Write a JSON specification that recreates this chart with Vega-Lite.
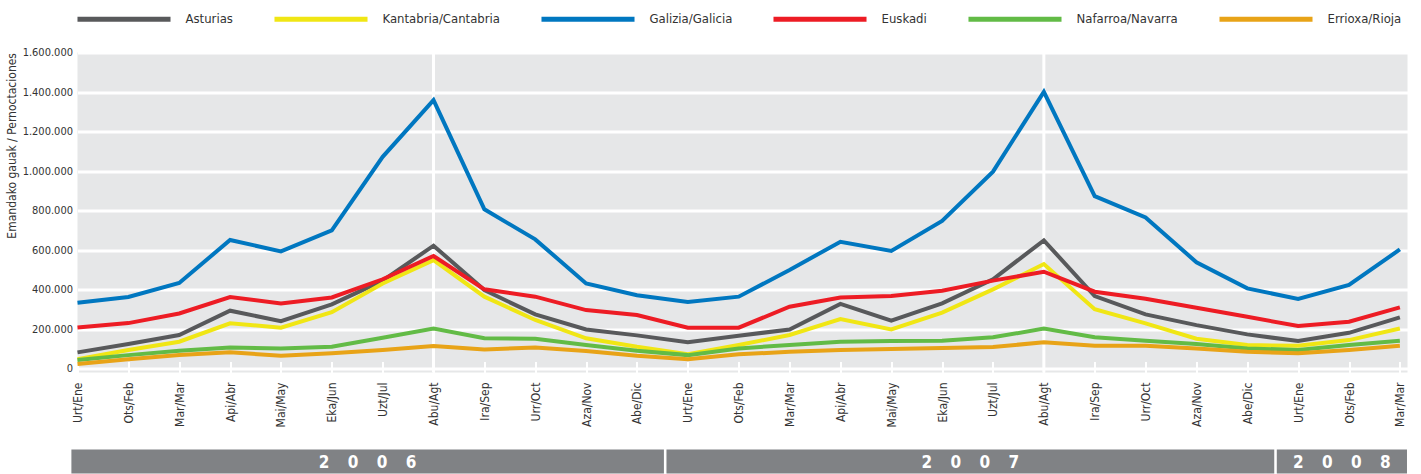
{
  "$schema": "https://vega.github.io/schema/vega-lite/v6.json",
  "background": "white",
  "padding": {"left": 4.5, "top": 4.5, "right": 10, "bottom": 0},
  "config": {
    "font": "DejaVu Sans Condensed, Liberation Sans, sans-serif",
    "view": {"stroke": null},
    "locale": {"number": {"decimal": ",", "thousands": ".", "grouping": [3], "currency": ["", " €"]}}
  },
  "spacing": 22,
  "datasets": {
    "pernoctaciones": [
      {"mes":0,"region":"Asturias","valor":82000},{"mes":1,"region":"Asturias","valor":124000},{"mes":2,"region":"Asturias","valor":170000},{"mes":3,"region":"Asturias","valor":293000},{"mes":4,"region":"Asturias","valor":240000},{"mes":5,"region":"Asturias","valor":325000},{"mes":6,"region":"Asturias","valor":445000},{"mes":7,"region":"Asturias","valor":622000},{"mes":8,"region":"Asturias","valor":397000},{"mes":9,"region":"Asturias","valor":274000},{"mes":10,"region":"Asturias","valor":198000},{"mes":11,"region":"Asturias","valor":168000},{"mes":12,"region":"Asturias","valor":133000},{"mes":13,"region":"Asturias","valor":166000},{"mes":14,"region":"Asturias","valor":198000},{"mes":15,"region":"Asturias","valor":327000},{"mes":16,"region":"Asturias","valor":242000},{"mes":17,"region":"Asturias","valor":330000},{"mes":18,"region":"Asturias","valor":452000},{"mes":19,"region":"Asturias","valor":649000},{"mes":20,"region":"Asturias","valor":367000},{"mes":21,"region":"Asturias","valor":274000},{"mes":22,"region":"Asturias","valor":220000},{"mes":23,"region":"Asturias","valor":173000},{"mes":24,"region":"Asturias","valor":139000},{"mes":25,"region":"Asturias","valor":181000},{"mes":26,"region":"Asturias","valor":259000},
      {"mes":0,"region":"Kantabria/Cantabria","valor":47000},{"mes":1,"region":"Kantabria/Cantabria","valor":94000},{"mes":2,"region":"Kantabria/Cantabria","valor":136000},{"mes":3,"region":"Kantabria/Cantabria","valor":229000},{"mes":4,"region":"Kantabria/Cantabria","valor":207000},{"mes":5,"region":"Kantabria/Cantabria","valor":285000},{"mes":6,"region":"Kantabria/Cantabria","valor":431000},{"mes":7,"region":"Kantabria/Cantabria","valor":549000},{"mes":8,"region":"Kantabria/Cantabria","valor":364000},{"mes":9,"region":"Kantabria/Cantabria","valor":246000},{"mes":10,"region":"Kantabria/Cantabria","valor":153000},{"mes":11,"region":"Kantabria/Cantabria","valor":110000},{"mes":12,"region":"Kantabria/Cantabria","valor":73000},{"mes":13,"region":"Kantabria/Cantabria","valor":119000},{"mes":14,"region":"Kantabria/Cantabria","valor":170000},{"mes":15,"region":"Kantabria/Cantabria","valor":251000},{"mes":16,"region":"Kantabria/Cantabria","valor":198000},{"mes":17,"region":"Kantabria/Cantabria","valor":283000},{"mes":18,"region":"Kantabria/Cantabria","valor":401000},{"mes":19,"region":"Kantabria/Cantabria","valor":529000},{"mes":20,"region":"Kantabria/Cantabria","valor":300000},{"mes":21,"region":"Kantabria/Cantabria","valor":229000},{"mes":22,"region":"Kantabria/Cantabria","valor":151000},{"mes":23,"region":"Kantabria/Cantabria","valor":119000},{"mes":24,"region":"Kantabria/Cantabria","valor":115000},{"mes":25,"region":"Kantabria/Cantabria","valor":144000},{"mes":26,"region":"Kantabria/Cantabria","valor":203000},
      {"mes":0,"region":"Galizia/Galicia","valor":333000},{"mes":1,"region":"Galizia/Galicia","valor":362000},{"mes":2,"region":"Galizia/Galicia","valor":433000},{"mes":3,"region":"Galizia/Galicia","valor":651000},{"mes":4,"region":"Galizia/Galicia","valor":593000},{"mes":5,"region":"Galizia/Galicia","valor":700000},{"mes":6,"region":"Galizia/Galicia","valor":1072000},{"mes":7,"region":"Galizia/Galicia","valor":1359000},{"mes":8,"region":"Galizia/Galicia","valor":806000},{"mes":9,"region":"Galizia/Galicia","valor":654000},{"mes":10,"region":"Galizia/Galicia","valor":431000},{"mes":11,"region":"Galizia/Galicia","valor":371000},{"mes":12,"region":"Galizia/Galicia","valor":337000},{"mes":13,"region":"Galizia/Galicia","valor":364000},{"mes":14,"region":"Galizia/Galicia","valor":499000},{"mes":15,"region":"Galizia/Galicia","valor":642000},{"mes":16,"region":"Galizia/Galicia","valor":595000},{"mes":17,"region":"Galizia/Galicia","valor":747000},{"mes":18,"region":"Galizia/Galicia","valor":997000},{"mes":19,"region":"Galizia/Galicia","valor":1401000},{"mes":20,"region":"Galizia/Galicia","valor":873000},{"mes":21,"region":"Galizia/Galicia","valor":765000},{"mes":22,"region":"Galizia/Galicia","valor":538000},{"mes":23,"region":"Galizia/Galicia","valor":406000},{"mes":24,"region":"Galizia/Galicia","valor":352000},{"mes":25,"region":"Galizia/Galicia","valor":423000},{"mes":26,"region":"Galizia/Galicia","valor":603000},
      {"mes":0,"region":"Euskadi","valor":208000},{"mes":1,"region":"Euskadi","valor":230000},{"mes":2,"region":"Euskadi","valor":279000},{"mes":3,"region":"Euskadi","valor":362000},{"mes":4,"region":"Euskadi","valor":330000},{"mes":5,"region":"Euskadi","valor":360000},{"mes":6,"region":"Euskadi","valor":452000},{"mes":7,"region":"Euskadi","valor":570000},{"mes":8,"region":"Euskadi","valor":401000},{"mes":9,"region":"Euskadi","valor":364000},{"mes":10,"region":"Euskadi","valor":296000},{"mes":11,"region":"Euskadi","valor":271000},{"mes":12,"region":"Euskadi","valor":207000},{"mes":13,"region":"Euskadi","valor":207000},{"mes":14,"region":"Euskadi","valor":313000},{"mes":15,"region":"Euskadi","valor":360000},{"mes":16,"region":"Euskadi","valor":367000},{"mes":17,"region":"Euskadi","valor":394000},{"mes":18,"region":"Euskadi","valor":445000},{"mes":19,"region":"Euskadi","valor":490000},{"mes":20,"region":"Euskadi","valor":389000},{"mes":21,"region":"Euskadi","valor":353000},{"mes":22,"region":"Euskadi","valor":308000},{"mes":23,"region":"Euskadi","valor":262000},{"mes":24,"region":"Euskadi","valor":215000},{"mes":25,"region":"Euskadi","valor":237000},{"mes":26,"region":"Euskadi","valor":310000},
      {"mes":0,"region":"Nafarroa/Navarra","valor":43000},{"mes":1,"region":"Nafarroa/Navarra","valor":68000},{"mes":2,"region":"Nafarroa/Navarra","valor":90000},{"mes":3,"region":"Nafarroa/Navarra","valor":107000},{"mes":4,"region":"Nafarroa/Navarra","valor":102000},{"mes":5,"region":"Nafarroa/Navarra","valor":110000},{"mes":6,"region":"Nafarroa/Navarra","valor":156000},{"mes":7,"region":"Nafarroa/Navarra","valor":202000},{"mes":8,"region":"Nafarroa/Navarra","valor":153000},{"mes":9,"region":"Nafarroa/Navarra","valor":151000},{"mes":10,"region":"Nafarroa/Navarra","valor":119000},{"mes":11,"region":"Nafarroa/Navarra","valor":90000},{"mes":12,"region":"Nafarroa/Navarra","valor":68000},{"mes":13,"region":"Nafarroa/Navarra","valor":102000},{"mes":14,"region":"Nafarroa/Navarra","valor":119000},{"mes":15,"region":"Nafarroa/Navarra","valor":136000},{"mes":16,"region":"Nafarroa/Navarra","valor":139000},{"mes":17,"region":"Nafarroa/Navarra","valor":141000},{"mes":18,"region":"Nafarroa/Navarra","valor":158000},{"mes":19,"region":"Nafarroa/Navarra","valor":202000},{"mes":20,"region":"Nafarroa/Navarra","valor":158000},{"mes":21,"region":"Nafarroa/Navarra","valor":141000},{"mes":22,"region":"Nafarroa/Navarra","valor":124000},{"mes":23,"region":"Nafarroa/Navarra","valor":102000},{"mes":24,"region":"Nafarroa/Navarra","valor":94000},{"mes":25,"region":"Nafarroa/Navarra","valor":119000},{"mes":26,"region":"Nafarroa/Navarra","valor":141000},
      {"mes":0,"region":"Errioxa/Rioja","valor":23000},{"mes":1,"region":"Errioxa/Rioja","valor":47000},{"mes":2,"region":"Errioxa/Rioja","valor":68000},{"mes":3,"region":"Errioxa/Rioja","valor":82000},{"mes":4,"region":"Errioxa/Rioja","valor":65000},{"mes":5,"region":"Errioxa/Rioja","valor":77000},{"mes":6,"region":"Errioxa/Rioja","valor":94000},{"mes":7,"region":"Errioxa/Rioja","valor":114000},{"mes":8,"region":"Errioxa/Rioja","valor":97000},{"mes":9,"region":"Errioxa/Rioja","valor":107000},{"mes":10,"region":"Errioxa/Rioja","valor":89000},{"mes":11,"region":"Errioxa/Rioja","valor":65000},{"mes":12,"region":"Errioxa/Rioja","valor":47000},{"mes":13,"region":"Errioxa/Rioja","valor":72000},{"mes":14,"region":"Errioxa/Rioja","valor":85000},{"mes":15,"region":"Errioxa/Rioja","valor":94000},{"mes":16,"region":"Errioxa/Rioja","valor":99000},{"mes":17,"region":"Errioxa/Rioja","valor":104000},{"mes":18,"region":"Errioxa/Rioja","valor":109000},{"mes":19,"region":"Errioxa/Rioja","valor":133000},{"mes":20,"region":"Errioxa/Rioja","valor":115000},{"mes":21,"region":"Errioxa/Rioja","valor":115000},{"mes":22,"region":"Errioxa/Rioja","valor":102000},{"mes":23,"region":"Errioxa/Rioja","valor":85000},{"mes":24,"region":"Errioxa/Rioja","valor":77000},{"mes":25,"region":"Errioxa/Rioja","valor":94000},{"mes":26,"region":"Errioxa/Rioja","valor":115000}
    ],
    "anios": [
      {"anio": "2006", "inicio": -0.12, "fin": 11.53},
      {"anio": "2007", "inicio": 11.58, "fin": 23.53},
      {"anio": "2008", "inicio": 23.58, "fin": 26.14}
    ]
  },
  "vconcat": [
    {
      "width": 1330,
      "height": 320,
      "view": {"fill": "#e6e7e8", "stroke": null},
      "data": {"name": "pernoctaciones"},
      "encoding": {
        "x": {
          "field": "mes",
          "type": "quantitative",
          "scale": {"domain": [0, 26.15], "nice": false, "zero": false},
          "axis": {
            "title": null,
            "values": [0,1,2,3,4,5,6,7,8,9,10,11,12,13,14,15,16,17,18,19,20,21,22,23,24,25,26],
            "labelExpr": "['Urt/Ene','Ots/Feb','Mar/Mar','Api/Abr','Mai/May','Eka/Jun','Uzt/Jul','Abu/Agt','Ira/Sep','Urr/Oct','Aza/Nov','Abe/Dic'][datum.value % 12]",
            "labelAngle": -90,
            "labelFontSize": 12,
            "labelColor": "#333333",
            "labelFlush": false,
            "labelOverlap": false,
            "labelPadding": 20.5,
            "tickSize": -11,
            "tickColor": "white",
            "tickWidth": 2,
            "domain": false,
            "grid": false
          }
        }
      },
      "layer": [
        {
          "transform": [{"filter": "(datum.mes == 7 || datum.mes == 19) && datum.region == 'Asturias'"}],
          "mark": {"type": "rule", "color": "white", "strokeWidth": 3}
        },
        {
          "mark": {"type": "line", "strokeWidth": 4},
          "encoding": {
            "y": {
              "field": "valor",
              "type": "quantitative",
              "scale": {"domain": [-20000, 1600000], "nice": false, "zero": false},
              "axis": {
                "title": "Emandako gauak / Pernoctaciones",
                "titleAnchor": "end",
                "titleFontSize": 12,
                "titleFontWeight": "normal",
                "titleColor": "#333333",
                "titlePadding": 4,
                "values": [0, 200000, 400000, 600000, 800000, 1000000, 1200000, 1400000, 1600000],
                "format": ",.0f",
                "labelFontSize": 11,
                "labelColor": "#333333",
                "labelPadding": 5,
                "labelFlush": false,
                "labelOverlap": false,
                "ticks": false,
                "tickSize": 0,
                "domain": false,
                "grid": true,
                "gridColor": "white",
                "gridWidth": 3,
                "gridOpacity": 1
              }
            },
            "color": {
              "field": "region",
              "type": "nominal",
              "scale": {
                "domain": ["Asturias", "Kantabria/Cantabria", "Galizia/Galicia", "Euskadi", "Nafarroa/Navarra", "Errioxa/Rioja"],
                "range": ["#58595b", "#f0e614", "#0077c0", "#ed1c24", "#62bb46", "#e8a317"]
              },
              "legend": {
                "title": null,
                "orient": "none",
                "legendX": 0,
                "legendY": -48,
                "direction": "horizontal",
                "symbolType": "M-4,0H4",
                "symbolSize": 541,
                "symbolStrokeWidth": 5,
                "symbolOffset": 32,
                "labelOffset": 47,
                "labelFontSize": 13,
                "labelColor": "#333333",
                "labelLimit": 300,
                "columnPadding": 30,
                "padding": 0
              }
            }
          }
        }
      ]
    },
    {
      "width": 1330,
      "height": 24,
      "data": {"name": "anios"},
      "transform": [
        {"calculate": "(datum.inicio + datum.fin) / 2", "as": "centro"},
        {"calculate": "join(split(datum.anio, ''), '\u2003\u2009')", "as": "rotulo"}
      ],
      "layer": [
        {
          "mark": {"type": "rect", "color": "#808285"},
          "encoding": {
            "x": {"field": "inicio", "type": "quantitative", "scale": {"domain": [0, 26.15], "nice": false, "zero": false}, "axis": null},
            "x2": {"field": "fin"}
          }
        },
        {
          "mark": {"type": "text", "color": "white", "fontSize": 17, "fontWeight": "bold", "baseline": "middle", "dy": 1},
          "encoding": {
            "x": {"field": "centro", "type": "quantitative", "axis": null},
            "text": {"field": "rotulo"}
          }
        }
      ]
    }
  ]
}
